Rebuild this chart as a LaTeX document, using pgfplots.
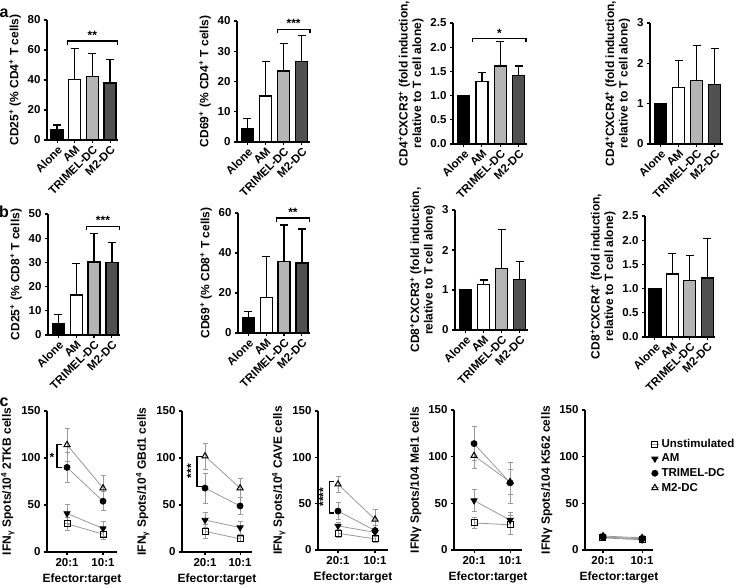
\documentclass[border=0pt]{standalone}
\usepackage{fontspec}
\setmainfont{Liberation Sans}
\usepackage{pgfplots}
\pgfplotsset{compat=1.18}
\definecolor{lgray}{HTML}{B4B4B4}
\definecolor{dgray}{HTML}{505050}
\definecolor{lgr}{HTML}{9A9A9A}
\newcommand{\F}{\bfseries\fontsize{11.5}{13}\selectfont}
\newcommand{\FL}{\bfseries\fontsize{12}{13.5}\selectfont}
\pgfplotsset{
 base/.style={scale only axis, anchor=south west, clip=false, axis lines*=left,
   axis line style={line width=1.3pt,-}, tick style={line width=1.1pt, black},
   tick align=outside, major tick length=3pt,
   /pgf/number format/assume math mode=true,
   ticklabel style={font=\F}, label style={font=\FL}, ymin=0},
 barpanel/.style={base, xmin=-0.57, xmax=3.45, xtick={0,1,2,3},
   xticklabels={Alone,AM,TRIMEL-DC,M2-DC},
   xticklabel style={rotate=45, anchor=north east, inner sep=1pt},
   ybar, bar width=12pt,
   error bars/y dir=plus, error bars/y explicit,
   error bars/error bar style={line width=1.2pt, black},
   error bars/error mark options={rotate=90, mark size=4pt, line width=1.2pt, black},
   every axis plot/.append style={draw=black, line width=1.2pt},
   ylabel style={align=center}},
 bb/.style={fill=#1, bar shift=0pt},
 linepanel/.style={base, xtick={1,2}, xticklabels={20:1,10:1}, ymax=150,
   ytick={0,50,100,150}, xlabel={Efector:target},
   error bars/y dir=both, error bars/y explicit,
   error bars/error bar style={lgr, line width=0.7pt},
   error bars/error mark options={rotate=90, mark size=2.5pt, lgr, line width=0.7pt},
   legend image code/.code={\draw[mark repeat=2,mark phase=2] plot coordinates {(0cm,0cm) (0.15cm,0cm) (0.3cm,0cm)};}},
 s1/.style={lgr, line width=0.8pt, mark=square, mark size=3pt, mark options={draw=black, fill=white, line width=1pt, solid}},
 s2/.style={lgr, line width=0.8pt, mark=triangle*, mark size=3.5pt, mark options={draw=black, fill=black, rotate=180, solid}},
 s3/.style={lgr, line width=0.8pt, mark=*, mark size=3pt, mark options={draw=black, fill=black, solid}},
 s4/.style={lgr, line width=0.8pt, mark=triangle, mark size=3.5pt, mark options={draw=black, fill=white, line width=1pt, solid}},
}
\newcommand{\hbrk}[4]{%
 \draw[line width=1.2pt] (axis cs:#1,#3) ++(0pt,-4pt) -- (axis cs:#1,#3) -- (axis cs:#2,#3) -- ++(0pt,-4pt);
 \node[above, inner sep=1pt, font=\FL] at (axis cs:{(#1+#2)/2},#3) {#4};}
\begin{document}
\begin{tikzpicture}[font=\F]
\useasboundingbox (0,0) rectangle (738pt,587pt);
\node[font=\bfseries\fontsize{16}{16}\selectfont] at (4pt,574pt) {a};
\node[font=\bfseries\fontsize{16}{16}\selectfont] at (4pt,375pt) {b};
\node[font=\bfseries\fontsize{16}{16}\selectfont] at (4pt,185pt) {c};
% ---------------- row a
\begin{axis}[barpanel, at={(47pt,447pt)}, width=71pt, height=120pt, ymax=80, ytick={0,20,40,60,80},
  ylabel={CD25\textsuperscript{+} (\% CD4\textsuperscript{+} T cells)}]
\addplot[bb=black] coordinates {(0,7) +- (0,3)};
\addplot[bb=white] coordinates {(1,40.5) +- (0,20.5)};
\addplot[bb=lgray] coordinates {(2,42.5) +- (0,15)};
\addplot[bb=dgray] coordinates {(3,38) +- (0,15.5)};
\hbrk{0.6}{3.4}{66}{**}
\end{axis}
\begin{axis}[barpanel, at={(237pt,445pt)}, width=73pt, height=121pt, ymax=40, ytick={0,10,20,30,40},
  ylabel={CD69\textsuperscript{+} (\% CD4\textsuperscript{+} T cells)}]
\addplot[bb=black] coordinates {(0,4.3) +- (0,3.4)};
\addplot[bb=white] coordinates {(1,15.2) +- (0,11.3)};
\addplot[bb=lgray] coordinates {(2,23.5) +- (0,9)};
\addplot[bb=dgray] coordinates {(3,26.6) +- (0,8.6)};
\hbrk{1.65}{3.45}{37.3}{***}
\end{axis}
\begin{axis}[barpanel, at={(453pt,443pt)}, width=74pt, height=121pt, ymax=2.5, ytick={0,0.5,1,1.5,2,2.5},
  yticklabel style={/pgf/number format/.cd, fixed, fixed zerofill, precision=1},
  ylabel={CD4\textsuperscript{+}CXCR3\textsuperscript{+} (fold induction,\\relative to T cell alone)}]
\addplot[bb=black] coordinates {(0,1.0)};
\addplot[bb=white] coordinates {(1,1.29) +- (0,0.18)};
\addplot[bb=lgray] coordinates {(2,1.61) +- (0,0.5)};
\addplot[bb=dgray] coordinates {(3,1.41) +- (0,0.2)};
\hbrk{0.5}{3.4}{2.18}{*}
\end{axis}
\begin{axis}[barpanel, at={(650pt,443pt)}, width=73pt, height=121pt, ymax=3, ytick={0,1,2,3},
  ylabel={CD4\textsuperscript{+}CXCR4\textsuperscript{+} (fold induction,\\relative to T cell alone)}]
\addplot[bb=black] coordinates {(0,1.0)};
\addplot[bb=white] coordinates {(1,1.41) +- (0,0.67)};
\addplot[bb=lgray] coordinates {(2,1.57) +- (0,0.88)};
\addplot[bb=dgray] coordinates {(3,1.48) +- (0,0.89)};
\end{axis}
% ---------------- row b
\begin{axis}[barpanel, at={(48pt,252pt)}, width=72pt, height=121pt, ymax=50, ytick={0,10,20,30,40,50},
  ylabel={CD25\textsuperscript{+} (\% CD8\textsuperscript{+} T cells)}]
\addplot[bb=black] coordinates {(0,4.8) +- (0,3.8)};
\addplot[bb=white] coordinates {(1,16.5) +- (0,13)};
\addplot[bb=lgray] coordinates {(2,30.2) +- (0,11.8)};
\addplot[bb=dgray] coordinates {(3,30) +- (0,8.2)};
\hbrk{1.6}{3.4}{45}{***}
\end{axis}
\begin{axis}[barpanel, at={(238pt,254pt)}, width=72pt, height=120pt, ymax=60, ytick={0,20,40,60},
  ylabel={CD69\textsuperscript{+} (\% CD8\textsuperscript{+} T cells)}]
\addplot[bb=black] coordinates {(0,7.5) +- (0,3.3)};
\addplot[bb=white] coordinates {(1,17.8) +- (0,20.5)};
\addplot[bb=lgray] coordinates {(2,35.8) +- (0,18.2)};
\addplot[bb=dgray] coordinates {(3,35) +- (0,17)};
\hbrk{1.6}{3.4}{57.5}{**}
\end{axis}
\begin{axis}[barpanel, at={(455pt,257pt)}, width=73pt, height=120pt, ymax=3, ytick={0,1,2,3},
  ylabel={CD8\textsuperscript{+}CXCR3\textsuperscript{+} (fold induction,\\relative to T cell alone)}]
\addplot[bb=black] coordinates {(0,1.0)};
\addplot[bb=white] coordinates {(1,1.14) +- (0,0.11)};
\addplot[bb=lgray] coordinates {(2,1.53) +- (0,0.98)};
\addplot[bb=dgray] coordinates {(3,1.27) +- (0,0.45)};
\end{axis}
\begin{axis}[barpanel, at={(645pt,250pt)}, width=70pt, height=121pt, ymax=2.5, ytick={0,0.5,1,1.5,2,2.5},
  yticklabel style={/pgf/number format/.cd, fixed, fixed zerofill, precision=1},
  ylabel={CD8\textsuperscript{+}CXCR4\textsuperscript{+} (fold induction,\\relative to T cell alone)}]
\addplot[bb=black] coordinates {(0,1.0)};
\addplot[bb=white] coordinates {(1,1.3) +- (0,0.43)};
\addplot[bb=lgray] coordinates {(2,1.17) +- (0,0.52)};
\addplot[bb=dgray] coordinates {(3,1.22) +- (0,0.82)};
\end{axis}
% ---------------- row c
\begin{axis}[linepanel, at={(47pt,35pt)}, width=70pt, height=141pt, xmin=0.444, xmax=2.389,
  ylabel={IFN\textsubscript{γ} Spots/10\textsuperscript{4} 2TKB cells}]
\addplot[s1] coordinates {(1,30) +- (0,7) (2,19) +- (0,6)};
\addplot[s2] coordinates {(1,41) +- (0,10) (2,25) +- (0,8)};
\addplot[s3] coordinates {(1,90) +- (0,16) (2,54) +- (0,10)};
\addplot[s4] coordinates {(1,114) +- (0,18) (2,68) +- (0,14)};
\draw[line width=1.2pt] (axis cs:0.86,90) -- (axis cs:0.72,90) -- (axis cs:0.72,114) -- (axis cs:0.86,114);
\node[font=\FL] at (axis cs:0.58,101) {*};
\end{axis}
\begin{axis}[linepanel, at={(182pt,35pt)}, width=70pt, height=141pt, xmin=0.343, xmax=2.34,
  ylabel={IFN\textsubscript{γ} Spots/10\textsuperscript{4} GBd1 cells}]
\addplot[s1] coordinates {(1,22) +- (0,7) (2,14) +- (0,3)};
\addplot[s2] coordinates {(1,34) +- (0,8) (2,26) +- (0,7)};
\addplot[s3] coordinates {(1,68) +- (0,16) (2,49) +- (0,9)};
\addplot[s4] coordinates {(1,102) +- (0,14) (2,68) +- (0,10)};
\draw[line width=1.2pt] (axis cs:0.91,70) -- (axis cs:0.77,70) -- (axis cs:0.77,102) -- (axis cs:0.91,102);
\node[font=\FL, rotate=90] at (axis cs:0.6,86) {***};
\end{axis}
\begin{axis}[linepanel, at={(318pt,37pt)}, width=70pt, height=139pt, xmin=0.46, xmax=2.35,
  ylabel={IFN\textsubscript{γ} Spots/10\textsuperscript{4} CAVE cells}]
\addplot[s1] coordinates {(1,18) +- (0,4) (2,12) +- (0,4)};
\addplot[s2] coordinates {(1,26) +- (0,4) (2,19) +- (0,4)};
\addplot[s3] coordinates {(1,42) +- (0,9) (2,21) +- (0,6)};
\addplot[s4] coordinates {(1,71) +- (0,9) (2,33) +- (0,11)};
\draw[line width=1.2pt] (axis cs:0.89,40) -- (axis cs:0.76,40) -- (axis cs:0.76,74) -- (axis cs:0.89,74);
\node[font=\FL, rotate=90] at (axis cs:0.6,57) {****};
\end{axis}
\begin{axis}[linepanel, at={(454pt,37pt)}, width=68pt, height=140pt, xmin=0.444, xmax=2.33,
  ylabel={IFNγ Spots/104 Mel1 cells}]
\addplot[s1] coordinates {(1,29) +- (0,6) (2,27) +- (0,10)};
\addplot[s2] coordinates {(1,53) +- (0,12) (2,32) +- (0,8)};
\addplot[s3] coordinates {(1,114) +- (0,18) (2,72) +- (0,22)};
\addplot[s4] coordinates {(1,101) +- (0,13) (2,73) +- (0,13)};
\end{axis}
\begin{axis}[linepanel, at={(585pt,37pt)}, width=68pt, height=140pt, xmin=0.54, xmax=2.28,
  ylabel={IFNγ Spots/104 K562 cells},
  legend style={at={(0.956,0.807)}, anchor=north west, draw=none, fill=none, font=\F,
    cells={anchor=west}, inner sep=0pt, row sep=1pt}]
\addplot[s1] coordinates {(1,13) +- (0,3) (2,11) +- (0,3)};
\addplot[s2] coordinates {(1,14) +- (0,3) (2,11) +- (0,3)};
\addplot[s3] coordinates {(1,14) +- (0,4) (2,12) +- (0,4)};
\addplot[s4] coordinates {(1,15) +- (0,3) (2,13) +- (0,3)};
\legend{Unstimulated, AM, TRIMEL-DC, M2-DC}
\end{axis}
\end{tikzpicture}
\end{document}
